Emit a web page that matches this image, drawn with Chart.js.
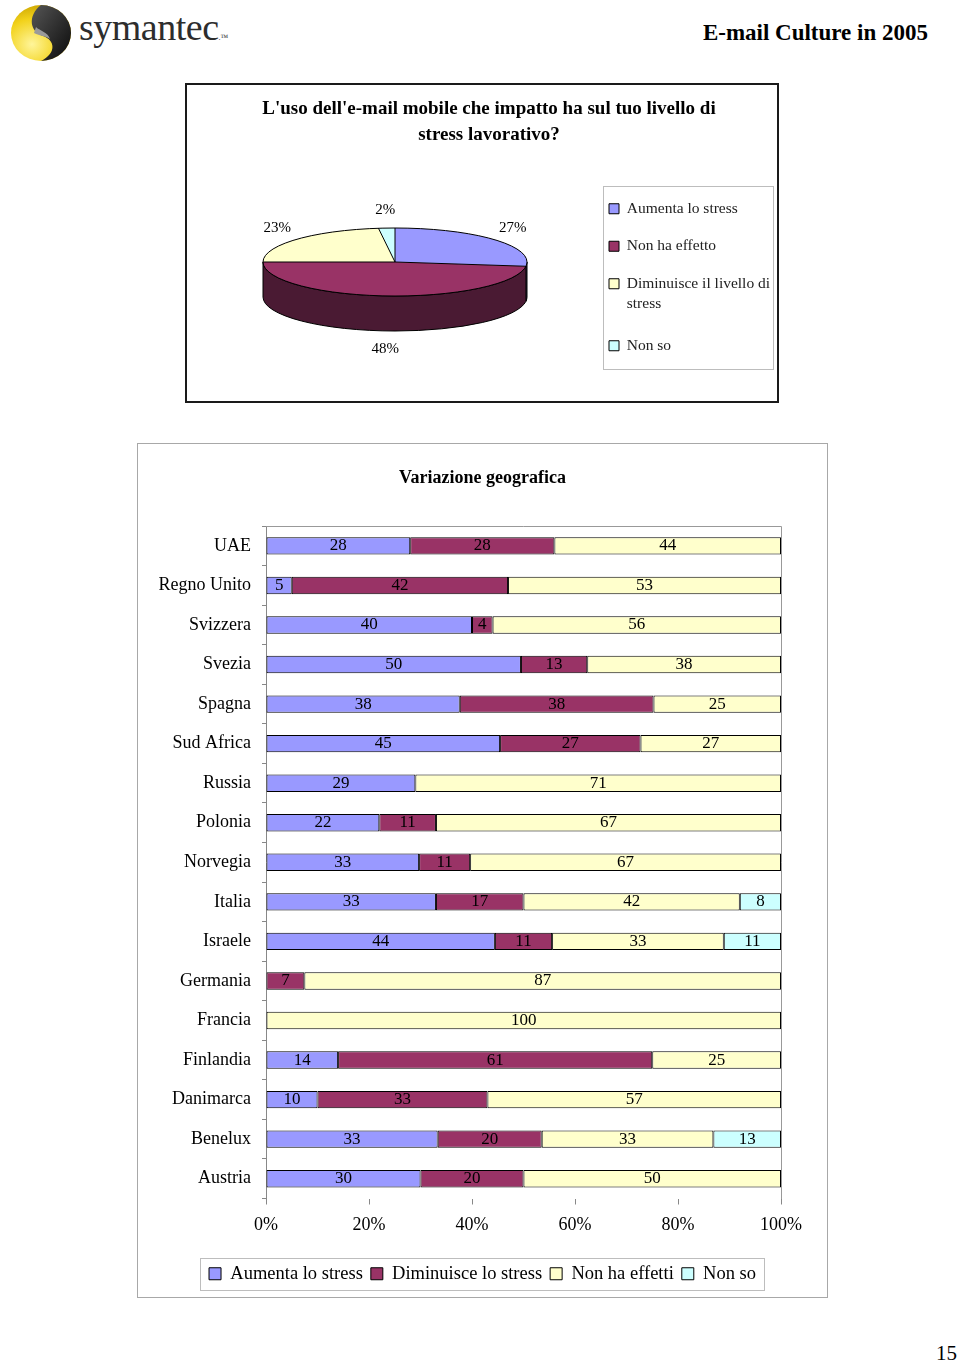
<!DOCTYPE html>
<html><head><meta charset="utf-8">
<script src="https://cdn.jsdelivr.net/npm/chart.js@4/dist/chart.umd.min.js"></script>
<style>
html,body{margin:0;padding:0;background:#fff;}
body{width:960px;height:1362px;position:relative;overflow:hidden;font-family:'Liberation Serif','Times New Roman',serif;color:#000;}
#logo{position:absolute;left:10px;top:3px;}
#logoText{position:absolute;left:79px;top:5px;font-size:38px;color:#2d2d2d;letter-spacing:-0.5px;white-space:nowrap;}
#logoText small{font-size:8px;letter-spacing:0;}
#hdr{position:absolute;right:32px;top:20px;font-size:23px;font-weight:bold;white-space:nowrap;}
#pg{position:absolute;right:3px;top:1341px;font-size:21px;}
#box1{position:absolute;left:185px;top:83px;width:594px;height:320px;border:2px solid #1a1a1a;box-sizing:border-box;}
#box2{position:absolute;left:137px;top:443px;width:691px;height:855px;border:1px solid #a8a8a8;box-sizing:border-box;}
canvas{position:absolute;left:0;top:0;}
</style></head><body>
<svg id="logo" width="64" height="60" viewBox="0 0 64 60">
  <defs>
    <radialGradient id="yg" cx="35%" cy="70%" r="75%"><stop offset="0" stop-color="#fff59a"/><stop offset="0.6" stop-color="#f2d21a"/><stop offset="1" stop-color="#c9a200"/></radialGradient>
    <linearGradient id="kg" x1="0" y1="0" x2="1" y2="1"><stop offset="0" stop-color="#555"/><stop offset="1" stop-color="#0a0a0a"/></linearGradient>
  </defs>
  <ellipse cx="31" cy="30" rx="30" ry="28" fill="url(#yg)"/>
  <path d="M31 2 A30 28 0 0 1 31 58 C47 50 45 37 33 33 C20 29 17 13 31 2 Z" fill="url(#kg)"/>
  <path d="M26 24 C30 28 38 29 40 36 C36 33 30 33 24 30 Z" fill="#9a9a9a"/>
</svg>
<div id="logoText">symantec<small>.™</small></div>
<div id="hdr">E-mail Culture in 2005</div>
<div id="box1"><canvas id="pie" width="590" height="316"></canvas></div>
<div id="box2"><canvas id="bar" width="689" height="853"></canvas></div>
<div id="pg">15</div>
<script>
// ---------- DATA ----------
const pieTitle = ["L'uso dell'e-mail mobile che impatto ha sul tuo livello di", "stress lavorativo?"];
const pieLabels = ["Aumenta lo stress", "Non ha effetto", "Diminuisce il livello di stress", "Non so"];
const pieValues = [27, 48, 23, 2];

const barTitle = "Variazione geografica";
const countries = ["UAE", "Regno Unito", "Svizzera", "Svezia", "Spagna", "Sud Africa", "Russia", "Polonia",
  "Norvegia", "Italia", "Israele", "Germania", "Francia", "Finlandia", "Danimarca", "Benelux", "Austria"];
const seriesNames = ["Aumenta lo stress", "Diminuisce lo stress", "Non ha effetti", "Non so"];
const aumenta    = [28, 5, 40, 50, 38, 45, 29, 22, 33, 33, 44, null, null, 14, 10, 33, 30];
const diminuisce = [28, 42, 4, 13, 38, 27, null, 11, 11, 17, 11, 7, null, 61, 33, 20, 20];
const nonEffetti = [44, 53, 56, 38, 25, 27, 71, 67, 67, 42, 33, 87, 100, 25, 57, 33, 50];
const nonSo      = [null, null, null, null, null, null, null, null, null, 8, 11, null, null, null, null, 13, null];
const xTickLabels = ["0%", "20%", "40%", "60%", "80%", "100%"];

// ---------- STYLE ----------
const FONT = "'Liberation Serif', 'Times New Roman', serif";
Chart.defaults.font.family = FONT;
Chart.defaults.color = '#000';
const fillColors = ['#9999FF', '#993366', '#FFFFCC', '#CCFFFF'];
const sideColors = ['#4d4d80', '#4a1a33', '#80806a', '#668080'];

function wrapText(t, maxChars) {
  const words = t.split(' '); const lines = []; let cur = '';
  words.forEach(w => {
    const next = cur ? cur + ' ' + w : w;
    if (next.length > maxChars && cur) { lines.push(cur); cur = w; } else cur = next;
  });
  if (cur) lines.push(cur);
  return lines.length > 1 ? lines : lines[0];
}

const legendFrame = {
  id: 'legendFrame',
  afterDraw(chart, args, o) {
    const lg = chart.legend;
    if (!lg || !lg.legendHitBoxes || !lg.legendHitBoxes.length) return;
    const hb = lg.legendHitBoxes;
    const x0 = Math.round(Math.min(...hb.map(h => h.left)) - o.padL) + 0.5;
    const x1 = Math.round(Math.max(...hb.map(h => h.left + h.width)) + o.padR) + 0.5;
    const y0 = Math.round(Math.min(...hb.map(h => h.top)) - o.padT) + 0.5;
    const y1 = Math.round(Math.max(...hb.map(h => h.top + h.height)) + o.padB) + 0.5;
    const ctx = chart.ctx;
    ctx.save(); ctx.strokeStyle = o.color; ctx.lineWidth = 1;
    ctx.strokeRect(x0, y0, x1 - x0, y1 - y0);
    ctx.restore();
  }
};

const pie3d = {
  id: 'pie3d',
  beforeDatasetsDraw(chart, args, o) {
    const arcs = chart.getDatasetMeta(0).data;
    const ctx = chart.ctx;
    const cx = arcs[0].x, cy = arcs[0].y, r = arcs[0].outerRadius;
    const ry = r * o.tilt, d = o.depth;
    ctx.save();
    ctx.lineWidth = 1; ctx.strokeStyle = o.edge;
    arcs.forEach((arc, i) => {
      for (let k = -1; k <= 1; k++) {
        const s = Math.max(arc.startAngle + k * 2 * Math.PI, 0);
        const e = Math.min(arc.endAngle + k * 2 * Math.PI, Math.PI);
        if (e <= s) continue;
        ctx.beginPath();
        ctx.ellipse(cx, cy, r, ry, 0, s, e);
        ctx.ellipse(cx, cy + d, r, ry, 0, e, s, true);
        ctx.closePath();
        ctx.fillStyle = o.sideColors[i];
        ctx.fill(); ctx.stroke();
      }
    });
    ctx.restore();
    ctx.save();
    ctx.translate(cx, cy); ctx.scale(1, o.tilt); ctx.translate(-cx, -cy);
  },
  afterDatasetsDraw(chart, args, o) {
    const ctx = chart.ctx;
    ctx.restore();
    const arcs = chart.getDatasetMeta(0).data;
    const cx = arcs[0].x, cy = arcs[0].y, r = arcs[0].outerRadius;
    const ry = r * o.tilt, d = o.depth;
    ctx.save();
    ctx.strokeStyle = o.edge; ctx.lineWidth = 1;
    ctx.beginPath(); ctx.ellipse(cx, cy, r, ry, 0, 0, 2 * Math.PI); ctx.stroke();
    arcs.forEach(arc => {
      ctx.beginPath(); ctx.moveTo(cx, cy);
      ctx.lineTo(cx + r * Math.cos(arc.startAngle), cy + ry * Math.sin(arc.startAngle));
      ctx.stroke();
    });
    ctx.font = o.labelFont; ctx.fillStyle = '#000';
    ctx.textAlign = 'center'; ctx.textBaseline = 'middle';
    const ds = chart.data.datasets[0];
    arcs.forEach((arc, i) => {
      const a = (arc.startAngle + arc.endAngle) / 2;
      const x = cx + Math.cos(a) * (r + o.labelDx);
      let y = cy + Math.sin(a) * (ry + o.labelDy);
      if (Math.sin(a) > 0.3) y += d;
      ctx.fillText(ds.data[i] + '%', x, y);
    });
    ctx.restore();
  }
};

new Chart(document.getElementById('pie'), {
  type: 'pie',
  data: {
    labels: pieLabels,
    datasets: [{ data: pieValues, backgroundColor: fillColors, borderWidth: 0, radius: 132, clip: false }]
  },
  options: {
    responsive: false, animation: false, devicePixelRatio: 1,
    events: [],
    layout: { padding: { left: 16, right: 2, top: 0, bottom: 25 } },
    plugins: {
      tooltip: { enabled: false },
      title: {
        display: true, text: pieTitle, color: '#000',
        font: { family: FONT, size: 19, weight: 'bold', lineHeight: 26 / 19 },
        padding: { top: 11, bottom: 0 }
      },
      legend: {
        position: 'right', fullSize: false, maxWidth: 188, align: 'start',
        title: { display: true, text: ' ', font: { size: 10, lineHeight: 1 }, padding: { top: 21, bottom: 0 } },
        labels: {
          font: { family: FONT, size: 15.5, lineHeight: 20 / 15.5 }, color: '#222',
          boxWidth: 10, boxHeight: 10, padding: 22,
          generateLabels(chart) {
            const base = (Chart.overrides.pie || Chart.overrides.doughnut).plugins.legend.labels.generateLabels(chart);
            return base.map(it => Object.assign({}, it, { text: wrapText(it.text, 24), lineWidth: 1, strokeStyle: '#000' }));
          }
        }
      },
      legendFrame: { color: '#bdbdbd', padL: 6, padR: 3, padT: 15, padB: 15 },
      pie3d: { tilt: 34 / 132, depth: 35, sideColors: sideColors, edge: '#000',
               labelFont: "15px " + FONT, labelDx: 25, labelDy: 18 }
    }
  },
  plugins: [pie3d, legendFrame]
});

// ---------- BAR CHART ----------
const seriesRaw = [aumenta, diminuisce, nonEffetti, nonSo];
const rowTotals = countries.map((c, i) => seriesRaw.reduce((s, arr) => s + (arr[i] || 0), 0));
const toPct = arr => arr.map((v, i) => v == null ? null : v / rowTotals[i] * 100);

const barValueLabels = {
  id: 'barValueLabels',
  afterDatasetsDraw(chart, args, o) {
    const ctx = chart.ctx;
    ctx.save();
    ctx.font = o.font; ctx.fillStyle = o.color;
    ctx.textAlign = 'center'; ctx.textBaseline = 'middle';
    chart.data.datasets.forEach((ds, d) => {
      chart.getDatasetMeta(d).data.forEach((bar, i) => {
        const v = ds.rawValues[i];
        if (v == null) return;
        ctx.fillText(String(v), (bar.x + bar.base) / 2, bar.y + o.dy);
      });
    });
    ctx.restore();
  }
};

const plotFrame = {
  id: 'plotFrame',
  afterDraw(chart, args, o) {
    const { left, right, top, bottom } = chart.chartArea;
    const ctx = chart.ctx;
    const l = Math.round(left), r = Math.round(right) + 0.5, t = Math.round(top) + 0.5, b = Math.round(bottom);
    ctx.save(); ctx.strokeStyle = o.color; ctx.lineWidth = 1;
    ctx.beginPath(); ctx.moveTo(l, t); ctx.lineTo(r, t); ctx.lineTo(r, b); ctx.stroke();
    ctx.restore();
  }
};

new Chart(document.getElementById('bar'), {
  type: 'bar',
  data: {
    labels: countries,
    datasets: seriesRaw.map((arr, k) => ({
      label: seriesNames[k], data: toPct(arr), rawValues: arr,
      backgroundColor: fillColors[k], borderColor: '#000', borderWidth: 1, borderSkipped: false,
      categoryPercentage: 1, barPercentage: 0.44
    }))
  },
  options: {
    indexAxis: 'y', responsive: false, animation: false, devicePixelRatio: 1,
    events: [],
    layout: { padding: { left: 0, right: 0, top: 0, bottom: 4 } },
    scales: {
      x: {
        stacked: true, min: 0, max: 100,
        afterFit(axis) { axis.height = 58; },
        grid: { drawOnChartArea: false, drawTicks: true, tickLength: 6, color: '#888' },
        border: { display: false },
        ticks: { stepSize: 20, padding: 10, font: { family: FONT, size: 18 }, color: '#000',
                 callback: (v) => xTickLabels[Math.round(v / 20)] }
      },
      y: {
        stacked: true,
        afterFit(axis) { axis.width = 128; },
        grid: { drawOnChartArea: false, offset: true, tickLength: 4, color: '#888' },
        border: { display: true, color: '#888' },
        ticks: { autoSkip: false, padding: 11, font: { family: FONT, size: 18 }, color: '#000' }
      },
      yRight: {
        type: 'category', position: 'right', axis: 'y',
        afterFit(axis) { axis.width = 46; },
        grid: { display: false }, border: { display: false }, ticks: { display: false }
      }
    },
    plugins: {
      tooltip: { enabled: false },
      title: {
        display: true, text: barTitle, color: '#000',
        font: { family: FONT, size: 18, weight: 'bold', lineHeight: 1.2 },
        padding: { top: 24, bottom: 36.5 }
      },
      legend: {
        position: 'bottom',
        labels: { font: { family: FONT, size: 18.5 }, color: '#000', boxWidth: 12, boxHeight: 12, padding: 8 }
      },
      legendFrame: { color: '#bdbdbd', padL: 9, padR: 8, padT: 7, padB: 7 },
      plotFrame: { color: '#999' },
      barValueLabels: { font: "17px " + FONT, color: '#000', dy: 0 }
    }
  },
  plugins: [barValueLabels, plotFrame, legendFrame]
});
</script>
</body></html>
